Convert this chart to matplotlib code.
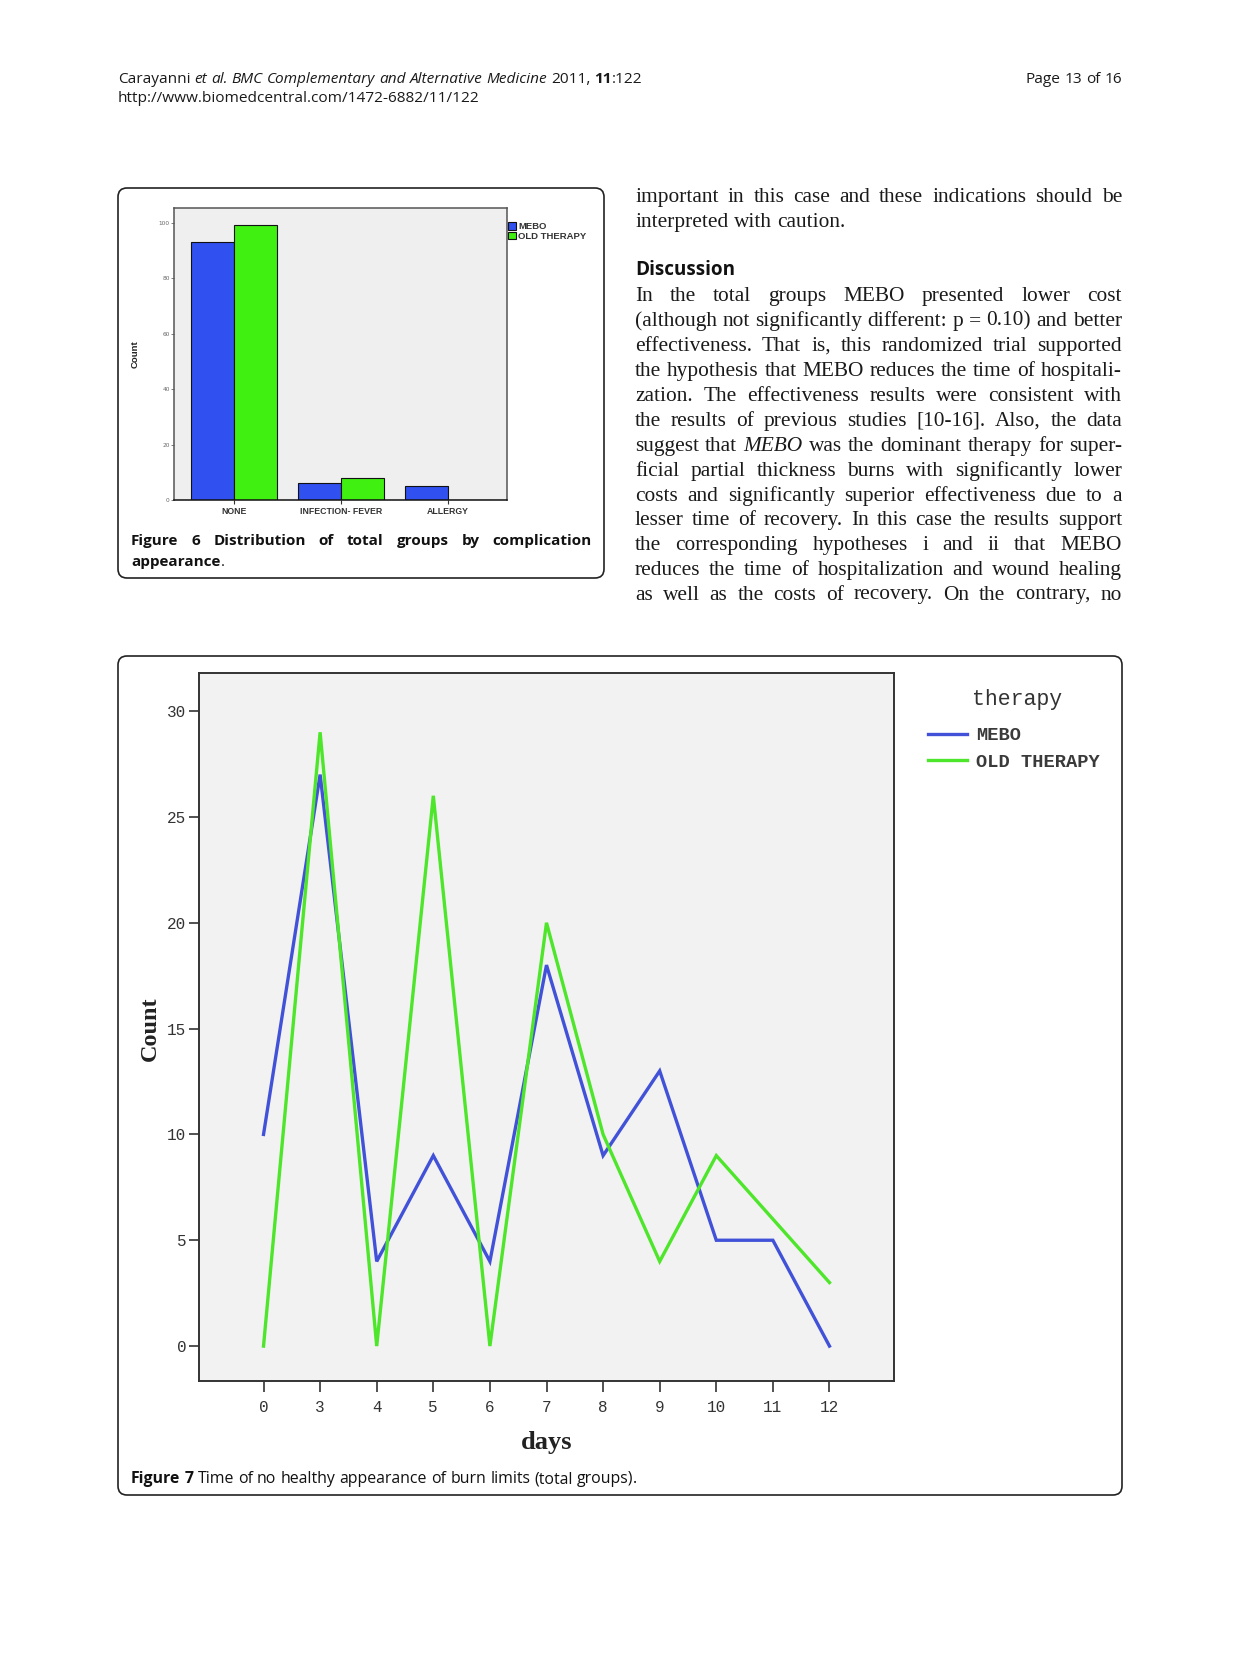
import matplotlib
matplotlib.use('Agg')
import matplotlib.pyplot as plt
from matplotlib.patches import FancyBboxPatch
from matplotlib import font_manager as fm
import numpy as np

# ---------------- data ----------------
complications = ['NONE', 'INFECTION- FEVER', 'ALLERGY']
mebo_compl = [93, 6, 5]
old_compl = [99, 8, 0]

days = ['0', '3', '4', '5', '6', '7', '8', '9', '10', '11', '12']
mebo_days = [10, 27, 4, 9, 4, 18, 9, 13, 5, 5, 0]
old_days = [0, 29, 0, 26, 0, 20, 10, 4, 9, 6, 3]

series_names = ['MEBO', 'OLD THERAPY']
legend_title = 'therapy'

# ---------------- styling ----------------
W, H = 1240, 1654
BAR_BLUE = '#3050f0'
BAR_GREEN = '#3ff010'
LINE_BLUE = '#4152d8'
LINE_GREEN = '#4ee62a'


def avail(name):
    try:
        fm.findfont(fm.FontProperties(family=name), fallback_to_default=False)
        return True
    except Exception:
        return False


SANS = 'Open Sans' if avail('Open Sans') else 'DejaVu Sans'
SERIF = 'Liberation Serif' if avail('Liberation Serif') else 'DejaVu Serif'
MONO = 'Liberation Mono' if avail('Liberation Mono') else 'DejaVu Sans Mono'
ARIAL = 'Liberation Sans' if avail('Liberation Sans') else 'DejaVu Sans'

fig = plt.figure(figsize=(W / 100, H / 100), dpi=100)
fig.patch.set_facecolor('white')
bg = fig.add_axes([0, 0, 1, 1])
bg.set_xlim(0, W)
bg.set_ylim(H, 0)
bg.axis('off')
renderer = fig.canvas.get_renderer()


def measure(s, **kw):
    t = bg.text(0, 0, s, **kw)
    w = t.get_window_extent(renderer).width
    t.remove()
    return w


def space_w(**kw):
    return measure('n n', **kw) - measure('nn', **kw)


def _kws(tokens, size, family, color='#1a1a1a'):
    kws = []
    for txt, st, glue in tokens:
        kw = dict(fontsize=size, family=family, color=color)
        kw.update(st)
        kws.append(kw)
    return kws


def draw_tokens(tokens, x0, y, x1=None, mode='left', size=10, family=SANS, color='#1a1a1a'):
    """tokens: list of (text, style dict, glued_to_previous)"""
    kws = _kws(tokens, size, family, color)
    widths = [measure(t[0], **k) for t, k in zip(tokens, kws)]
    sp = space_w(**kws[0])
    ngaps = sum(1 for i, t in enumerate(tokens) if i > 0 and not t[2])
    total = sum(widths)
    if mode == 'justify' and ngaps > 0:
        gap = (x1 - x0 - total) / ngaps
    else:
        gap = sp
    x = x1 - (total + gap * ngaps) if mode == 'right' else x0
    for i, (t, k, w) in enumerate(zip(tokens, kws, widths)):
        if i > 0 and not t[2]:
            x += gap
        bg.text(x, y, t[0], va='baseline', ha='left', **k)
        x += w


def natural_width(tokens, size, family):
    kws = _kws(tokens, size, family)
    widths = [measure(t[0], **k) for t, k in zip(tokens, kws)]
    sp = space_w(**kws[0])
    ngaps = sum(1 for i, t in enumerate(tokens) if i > 0 and not t[2])
    return sum(widths) + sp * ngaps


def fit_size(tokens, target, family, base=10):
    return base * target / natural_width(tokens, base, family)


def words(s, st=None):
    st = st or {}
    return [(w, st, False) for w in s.split()]


N = {}
I = {'style': 'italic'}
B = {'weight': 'bold'}

# ---------------- header ----------------
h1 = words('Carayanni') + words('et al.', I) + words('BMC Complementary and Alternative Medicine', I) \
    + words('2011,') + [('11', B, False), (':122', N, True)]
s_h = fit_size(h1, 524, SANS)
draw_tokens(h1, 118, 83, size=s_h, family=SANS)
h2 = words('http://www.biomedcentral.com/1472-6882/11/122')
draw_tokens(h2, 118, 102, size=s_h, family=SANS)
draw_tokens(words('Page 13 of 16'), 0, 83, x1=1122, mode='right', size=s_h, family=SANS)

# ---------------- right column text ----------------
body_lines = [
    ('important in this case and these indications should be', 'justify'),
    ('interpreted with caution.', 'left'),
    None,
    ('In the total groups MEBO presented lower cost', 'justify'),
    ('(although not significantly different: p = 0.10) and better', 'justify'),
    ('effectiveness. That is, this randomized trial supported', 'justify'),
    ('the hypothesis that MEBO reduces the time of hospitali-', 'justify'),
    ('zation. The effectiveness results were consistent with', 'justify'),
    ('the results of previous studies [10-16]. Also, the data', 'justify'),
    ('suggest that *MEBO* was the dominant therapy for super-', 'justify'),
    ('ficial partial thickness burns with significantly lower', 'justify'),
    ('costs and significantly superior effectiveness due to a', 'justify'),
    ('lesser time of recovery. In this case the results support', 'justify'),
    ('the corresponding hypotheses i and ii that MEBO', 'justify'),
    ('reduces the time of hospitalization and wound healing', 'justify'),
    ('as well as the costs of recovery. On the contrary, no', 'justify'),
]
baselines = [201.7, 226.7, 275, 300.7, 325.7, 350.7, 375.7, 400.7, 425.7, 450.7,
             475.7, 500.7, 525.4, 550.2, 575, 599.5]


def line_tokens(txt):
    toks = []
    for w in txt.split():
        if w.startswith('*') and w.endswith('*'):
            toks.append((w.strip('*'), I, False))
        else:
            toks.append((w, N, False))
    return toks


body_size = fit_size(line_tokens('interpreted with caution.'), 215, SERIF)
for item in body_lines:
    if item is not None and item[1] == 'justify':
        nat = natural_width(line_tokens(item[0]), body_size, SERIF)
        if nat > 484:
            body_size *= 484 / nat

for item, yb in zip(body_lines, baselines):
    if item is None:
        tk = words('Discussion', B)
        sz = fit_size(tk, 100, SANS)
        draw_tokens(tk, 635, yb, size=sz, family=SANS, color='#111111')
        continue
    txt, mode = item
    draw_tokens(line_tokens(txt), 635, yb, x1=1122, mode=mode, size=body_size,
                family=SERIF, color='#1a1a1a')

# ---------------- boxes ----------------
for (x0, y0, x1, y1) in [(118, 188, 604, 578), (118, 656, 1122, 1495)]:
    bg.add_patch(FancyBboxPatch((x0, y0), x1 - x0, y1 - y0,
                                boxstyle='round,pad=0,rounding_size=9',
                                fc='none', ec='#222222', lw=1.2))

# ---------------- Figure 6 (bar chart) ----------------
ax1 = fig.add_axes([174 / W, 1 - 500 / H, 333 / W, 292 / H])
ax1.set_facecolor('#efefef')
x = np.arange(len(complications))
bw = 0.4
ax1.bar(x - bw / 2, mebo_compl, bw, color=BAR_BLUE, edgecolor='#111111', lw=0.8, label=series_names[0])
ax1.bar(x + bw / 2, old_compl, bw, color=BAR_GREEN, edgecolor='#111111', lw=0.8, label=series_names[1])
ax1.set_xlim(-0.56, 2.55)
ax1.set_ylim(0, 105.3)
ax1.set_yticks([0, 20, 40, 60, 80, 100])
ax1.set_xticks(x)
ax1.set_xticklabels(complications, fontsize=6.3, family=ARIAL, weight='bold', color='#333333')
ax1.tick_params(axis='y', labelsize=4.2, colors='#666666', length=2, width=0.6, pad=1)
ax1.tick_params(axis='x', length=3, width=0.8, pad=2, colors='#333333')
for sp in ax1.spines.values():
    sp.set_color('#555555')
    sp.set_linewidth(1.1)
ax1.spines['bottom'].set_color('#111111')
ax1.set_ylabel('Count', fontsize=6.8, family=ARIAL, weight='bold', color='#222222')
ax1.yaxis.set_label_coords((140 - 174) / 333, 0.5)
lg1 = ax1.legend(loc='upper left', bbox_to_anchor=(1.003, (500 - 222) / 292), frameon=False,
                 fontsize=6.8, handlelength=0.85, handleheight=0.85, handletextpad=0.2,
                 labelspacing=0.05, borderaxespad=0, borderpad=0)
for t in lg1.get_texts():
    t.set_family(ARIAL)
    t.set_weight('bold')
    t.set_color('#333333')

# caption Figure 6
c1 = words('Figure 6 Distribution of total groups by complication', B)
draw_tokens(c1, 131, 545, x1=592, mode='justify', size=11.0, family=SANS, color='#111111')
c2 = [('appearance', B, False), ('.', N, True)]
draw_tokens(c2, 131, 566, size=11.0, family=SANS, color='#111111')

# ---------------- Figure 7 (line chart) ----------------
ax2 = fig.add_axes([199 / W, 1 - 1381 / H, (894 - 199) / W, (1381 - 673) / H])
ax2.set_facecolor('#f2f2f2')
pos = np.arange(len(days))
ax2.plot(pos, mebo_days, color=LINE_BLUE, lw=2.4, label=series_names[0], solid_joinstyle='miter')
ax2.plot(pos, old_days, color=LINE_GREEN, lw=2.4, label=series_names[1], solid_joinstyle='miter')
ax2.set_xlim(-1.14, 11.14)
ax2.set_ylim(-1.65, 31.8)
ax2.set_yticks([0, 5, 10, 15, 20, 25, 30])
ax2.set_xticks(pos)
ax2.set_xticklabels(days)
for lab in ax2.get_xticklabels() + ax2.get_yticklabels():
    lab.set_family(MONO)
    lab.set_fontsize(11.5)
    lab.set_color('#333333')
ax2.tick_params(axis='y', length=7, width=1.2, pad=2, colors='#333333')
ax2.tick_params(axis='x', length=8, width=1.2, pad=6, colors='#333333')
for sp in ax2.spines.values():
    sp.set_color('#333333')
    sp.set_linewidth(1.4)
ax2.set_xlabel('days', fontsize=19, family=SERIF, weight='bold', color='#222222')
ax2.xaxis.set_label_coords(0.5, (1381 - 1442) / 708)
ax2.xaxis.label.set_va('center')
ax2.set_ylabel('Count', fontsize=17.5, family=SERIF, weight='bold', color='#222222')
ax2.yaxis.set_label_coords((150 - 199) / 695, (1381 - 1029) / 708)
ax2.yaxis.label.set_va('center')
lg2 = ax2.legend(loc='upper left',
                 bbox_to_anchor=(1 + (928 - 894) / 695, (1381 - 727) / 708),
                 frameon=False, prop={'family': MONO, 'size': 13.5, 'weight': 'bold'},
                 handlelength=2.1, handletextpad=0.45, labelspacing=0.5,
                 borderaxespad=0, borderpad=0)
for t in lg2.get_texts():
    t.set_color('#3a3a3a')
ax2.text(1 + (1017 - 894) / 695, (1381 - 700) / 708, legend_title, transform=ax2.transAxes,
         ha='center', va='center', family=MONO, fontsize=15.5, color='#333333')

# caption Figure 7
c3 = [('Figure', B, False), ('7', B, False)] + words('Time of no healthy appearance of burn limits (total') \
    + [('groups)', N, False), ('.', N, True)]
s7 = fit_size(c3, 506, SANS)
draw_tokens(c3, 131, 1483, size=s7, family=SANS, color='#111111')

fig.savefig('out.png', dpi=100, facecolor='white')
